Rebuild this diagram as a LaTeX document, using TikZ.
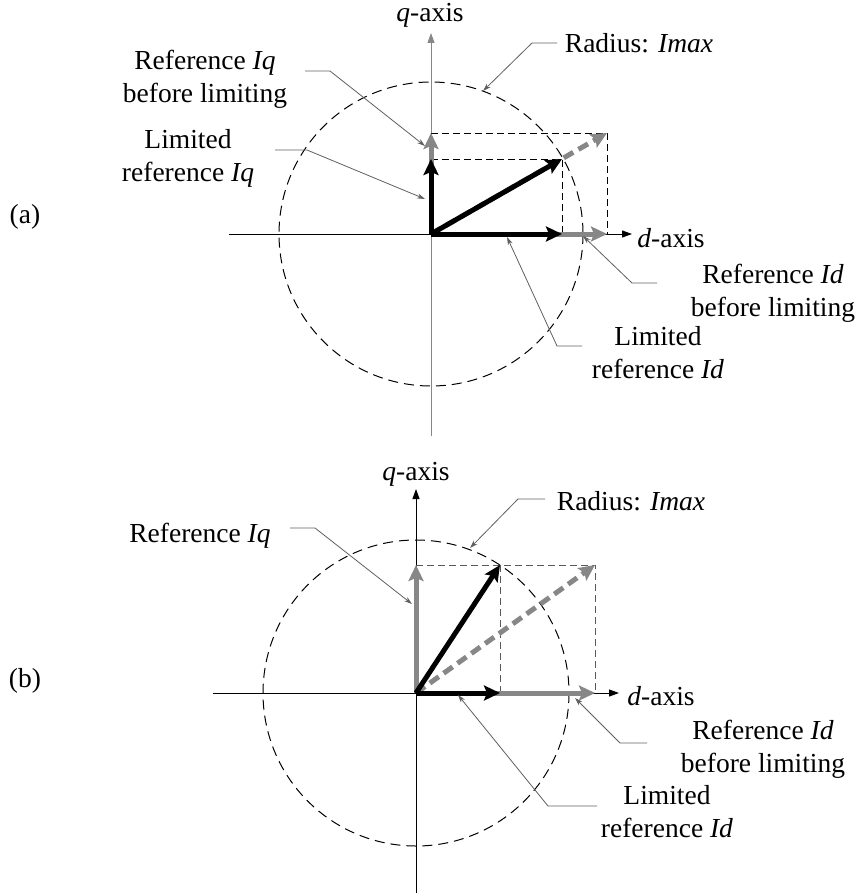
\documentclass[tikz,border=0pt]{standalone}
\usepackage{fontspec}
\setmainfont{Liberation Serif}
\usetikzlibrary{arrows.meta}
\definecolor{vgray}{RGB}{135,135,135}
\definecolor{lgray}{RGB}{95,95,95}
\begin{document}
\begin{tikzpicture}[x=1pt,y=-1pt,
  lbl/.style={font=\fontsize{27.5}{33}\selectfont, inner sep=0pt, align=center},
  axisline/.style={line width=1pt, -{Triangle[length=10pt,width=7pt]}},
  vec/.style={line width=5pt, -{Stealth[length=16pt,width=15pt,inset=3pt]}},
  gvec/.style={vec, draw=vgray, color=vgray},
  gdvec/.style={gvec, dash pattern=on 11pt off 6pt},
  circ/.style={line width=1pt, dash pattern=on 10pt off 6pt},
  proj/.style={line width=0.9pt, dash pattern=on 7pt off 4pt},
  leader/.style={draw=lgray, line width=0.8pt, -{Stealth[length=8pt,width=5pt]}}]
\useasboundingbox (0,0) rectangle (862,896);

% ================= (a) =================
\coordinate (Oa) at (431,234);
\coordinate (qaB) at (431,436);
\coordinate (qaT) at (431,33);
\coordinate (daL) at (229,234);
\coordinate (daR) at (632,234);
\coordinate (aIqL) at (431,159);
\coordinate (aIqR) at (431,133);
\coordinate (aIdL) at (562,234);
\coordinate (aIdR) at (607,234);
\coordinate (aRL) at (562,159);
\coordinate (aRR) at (607,133);

\draw[axisline] (daL) -- (daR);
\draw[axisline, draw=vgray, fill=black] (qaB) -- (qaT);
\draw[circ] (Oa) circle[radius=152];
\draw[proj] (aIqR) -- (aRR) -- (aIdR);
\draw[proj] (aIqL) -- (aRL) -- (aIdL);
\draw[gvec] (Oa) -- (aIqR);
\draw[gvec] (Oa) -- (aIdR);
\draw[gdvec] (Oa) -- (aRR);
\draw[vec] (Oa) -- (aIqL);
\draw[vec] (Oa) -- (aIdL);
\draw[vec] (Oa) -- (aRL);

\node[lbl, anchor=base] (aqlab) at (430,22) {\textit{q}-axis};
\node[lbl, anchor=base] (adlab) at (671,247) {\textit{d}-axis};
\node[lbl, anchor=base] (alab) at (25,223) {(a)};
\node[lbl] (aRefIq) at (205,79.5) {Reference \textit{Iq}\\before limiting};
\node[lbl] (aLimIq) at (188,158.5) {Limited\\reference \textit{Iq}};
\node[lbl, anchor=base] (aRad) at (639,53) {Radius: \textit{Imax}};
\node[lbl] (aRefId) at (773,293.5) {Reference \textit{Id}\\before limiting};
\node[lbl] (aLimId) at (658,352.3) {Limited\\reference \textit{Id}};

\coordinate (l1s) at (305,71);  \coordinate (l1k) at (330,71);  \coordinate (l1t) at (425,146);
\coordinate (l2s) at (275,150); \coordinate (l2k) at (307,150); \coordinate (l2t) at (425,199);
\coordinate (l3s) at (557,43);  \coordinate (l3k) at (532,43);  \coordinate (l3t) at (483,91);
\coordinate (l4s) at (657,283); \coordinate (l4k) at (632,283); \coordinate (l4t) at (583,236);
\coordinate (l5s) at (582,346); \coordinate (l5k) at (557,346); \coordinate (l5t) at (507,237);
\draw[leader] (l1s) -- (l1k) -- (l1t);
\draw[leader] (l2s) -- (l2k) -- (l2t);
\draw[leader] (l3s) -- (l3k) -- (l3t);
\draw[leader] (l4s) -- (l4k) -- (l4t);
\draw[leader] (l5s) -- (l5k) -- (l5t);

% ================= (b) =================
\coordinate (Ob) at (416,693);
\coordinate (qbB) at (416,893);
\coordinate (qbT) at (416,489);
\coordinate (dbL) at (213,693);
\coordinate (dbR) at (619,693);
\coordinate (bIq) at (416,565);
\coordinate (bIdL) at (500,693);
\coordinate (bIdR) at (595,693);
\coordinate (bRL) at (500,565);
\coordinate (bRR) at (595,565);

\draw[axisline] (dbL) -- (dbR);
\draw[axisline] (qbB) -- (qbT);
\draw[circ] (Ob) circle[radius=153];
\draw[proj, draw=black!65] (bIq) -- (bRR) -- (bIdR);
\draw[proj, draw=black!65] (bRL) -- (bIdL);
\draw[gvec] (Ob) -- (bIq);
\draw[gvec] (Ob) -- (bIdR);
\draw[gdvec] (Ob) -- (bRR);
\draw[vec] (Ob) -- (bIdL);
\draw[vec] (Ob) -- (bRL);

\node[lbl, anchor=base] (bqlab) at (416,480) {\textit{q}-axis};
\node[lbl, anchor=base] (bdlab) at (661,705) {\textit{d}-axis};
\node[lbl, anchor=base] (blab) at (25,687) {(b)};
\node[lbl, anchor=base] (bRefIq) at (200,542) {Reference \textit{Iq}};
\node[lbl, anchor=base] (bRad) at (631,510) {Radius: \textit{Imax}};
\node[lbl] (bRefId) at (763,749) {Reference \textit{Id}\\before limiting};
\node[lbl] (bLimId) at (667,811.8) {Limited\\reference \textit{Id}};

\coordinate (m1s) at (290,528); \coordinate (m1k) at (315,528); \coordinate (m1t) at (412,604);
\coordinate (m2s) at (545,499); \coordinate (m2k) at (518,499); \coordinate (m2t) at (470,548);
\coordinate (m3s) at (647,743); \coordinate (m3k) at (620,743); \coordinate (m3t) at (575,698);
\coordinate (m4s) at (597,806); \coordinate (m4k) at (548,806); \coordinate (m4t) at (458,695);
\draw[leader] (m1s) -- (m1k) -- (m1t);
\draw[leader] (m2s) -- (m2k) -- (m2t);
\draw[leader] (m3s) -- (m3k) -- (m3t);
\draw[leader] (m4s) -- (m4k) -- (m4t);
\end{tikzpicture}
\end{document}
